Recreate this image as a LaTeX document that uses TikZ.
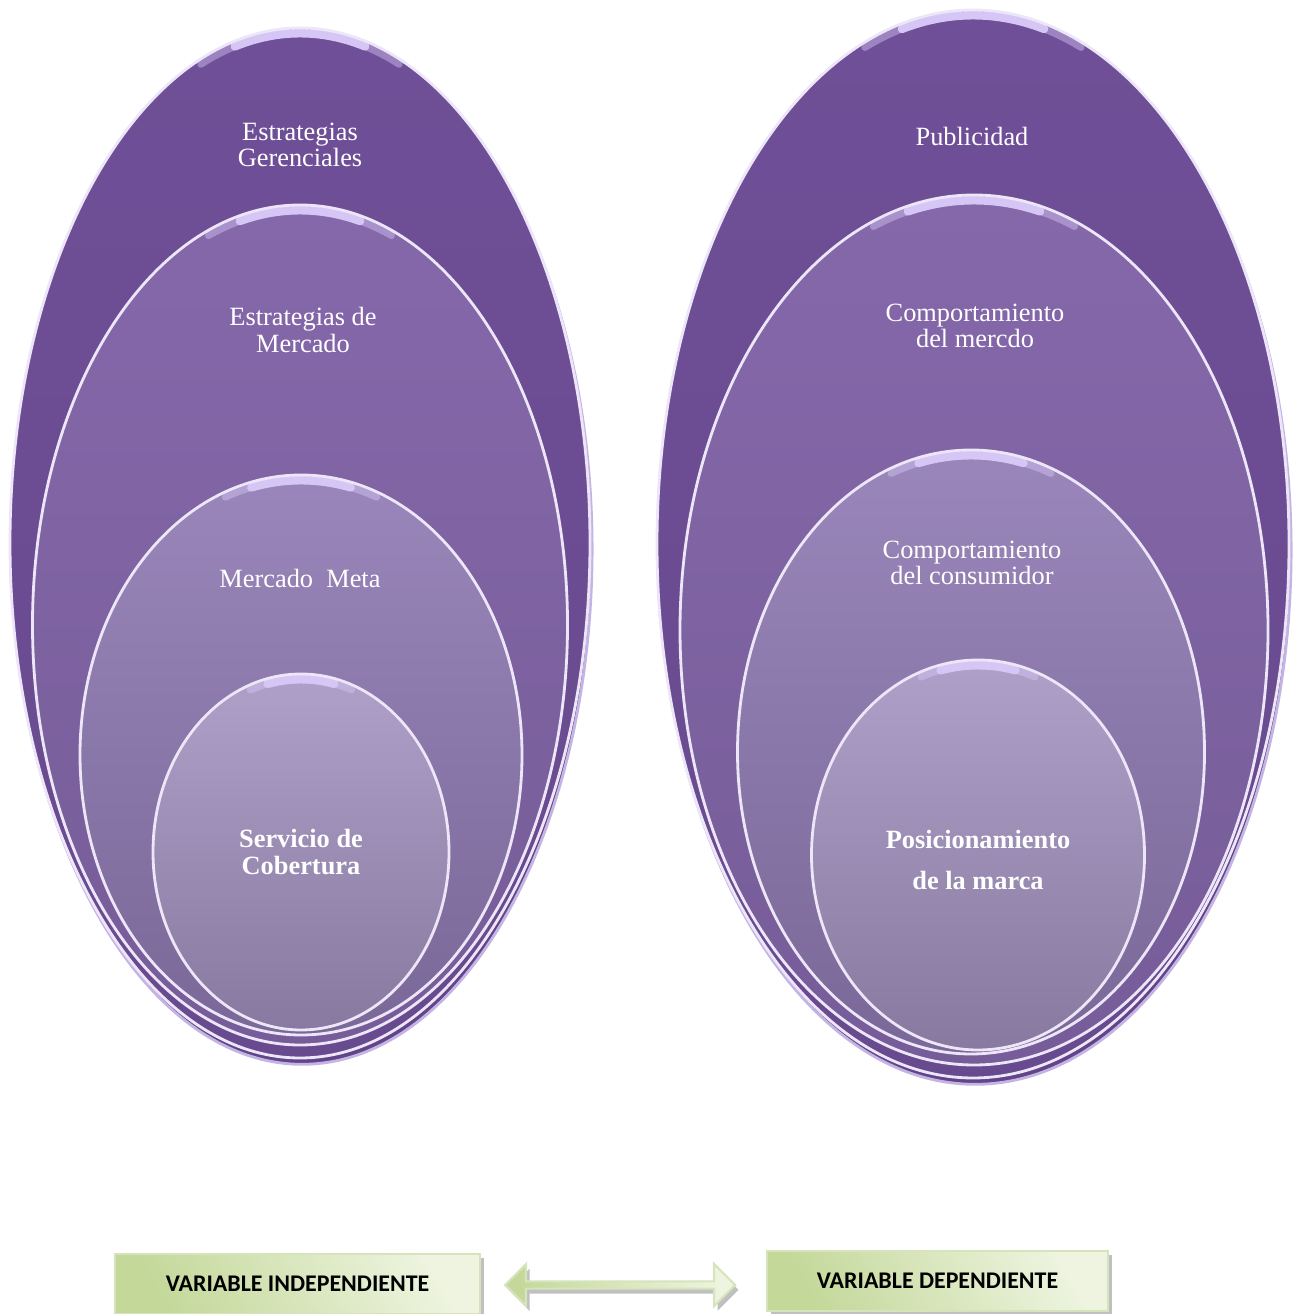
\documentclass[tikz,border=0pt]{standalone}
\usepackage{fontspec}
\setmainfont{Liberation Serif}
\newfontfamily\boxfont{Carlito}
\usetikzlibrary{positioning,shapes.geometric,shapes.arrows,shadows}
\definecolor{vOuter}{RGB}{111,79,151}
\definecolor{vOuterDk}{RGB}{104,74,142}
\definecolor{vMid}{RGB}{133,104,170}
\definecolor{vMidDk}{RGB}{118,92,152}
\definecolor{vIn}{RGB}{154,134,186}
\definecolor{vInDk}{RGB}{122,104,152}
\definecolor{vCore}{RGB}{174,160,200}
\definecolor{vCoreDk}{RGB}{136,121,160}
\definecolor{vRim}{RGB}{236,230,248}
\definecolor{vGlint}{RGB}{214,198,246}
\definecolor{vBack}{RGB}{98,68,136}
\definecolor{vBackRim}{RGB}{196,180,228}
\definecolor{gDark}{RGB}{196,216,154}
\definecolor{gLight}{RGB}{238,244,224}
\definecolor{gEdge}{RGB}{214,228,188}

\begin{document}
\begin{tikzpicture}[
  ring/.style 2 args={ellipse,inner sep=0pt,minimum width=#1cm,minimum height=#2cm,
    draw=vRim,line width=0.8pt,
    path picture={
      \draw[vGlint,line width=2pt,line cap=round,opacity=.45]
        ([shift={({#1cm/2*cos(70)},{#2cm/2*sin(70)-1.5pt})}]path picture bounding box.center)
        arc[start angle=70,end angle=110,x radius={#1cm/2},y radius={#2cm/2}];
      \draw[vGlint,line width=2.4pt,line cap=round]
        ([shift={({#1cm/2*cos(77)},{#2cm/2*sin(77)-1.5pt})}]path picture bounding box.center)
        arc[start angle=77,end angle=103,x radius={#1cm/2},y radius={#2cm/2}];}},
  backring/.style={copy shadow={shadow xshift=0.6pt,shadow yshift=-1.8pt,opacity=1,fill=vBack,draw=vBackRim,line width=0.8pt}},
  lbl/.style={text=white,align=center,font=\fontsize{7.5}{7.6}\selectfont},
  blbl/.style={lbl,font=\fontsize{7.5}{7.6}\selectfont\bfseries},
  varbox/.style={draw=gEdge,line width=0.6pt,left color=gDark,right color=gLight,shading angle=120,
    minimum height=0.6cm,inner sep=0pt,font=\boxfont\bfseries\fontsize{6.8}{7}\selectfont,
    drop shadow={shadow xshift=1.2pt,shadow yshift=-1.2pt,opacity=.45,fill=black!55}}]
  \useasboundingbox (0,0) rectangle (12.99,13.14);
  % independent side
  \node[ring={5.80}{10.30},backring,top color=vOuter,bottom color=vOuterDk] (e1) at (3.00,7.71) {};
  \node[ring={5.35}{8.40},top color=vMid,bottom color=vMidDk] (e2) at (3.00,6.89) {};
  \node[ring={4.42}{5.60},top color=vIn,bottom color=vInDk] (e3) at (3.01,5.59) {};
  \node[ring={2.96}{3.56},top color=vCore,bottom color=vCoreDk] (e4) at (3.01,4.62) {};
  \node[lbl] (t1) at (3.00,11.69) {Estrategias\\Gerenciales};
  \node[lbl] (t2) at (3.03,9.84) {Estrategias de\\Mercado};
  \node[lbl] (t3) at (3.00,7.36) {Mercado\ \ Meta};
  \node[blbl] (t4) at (3.01,4.62) {Servicio de\\Cobertura};
  % dependent side
  \node[ring={6.32}{10.68},backring,top color=vOuter,bottom color=vOuterDk] (r1) at (9.73,7.70) {};
  \node[ring={5.88}{8.70},top color=vMid,bottom color=vMidDk] (r2) at (9.74,6.84) {};
  \node[ring={4.67}{6.04},top color=vIn,bottom color=vInDk] (r3) at (9.71,5.62) {};
  \node[ring={3.33}{3.90},top color=vCore,bottom color=vCoreDk] (r4) at (9.78,4.59) {};
  \node[lbl] (s1) at (9.72,11.77) {Publicidad};
  \node[lbl] (s2) at (9.75,9.88) {Comportamiento\\del mercdo};
  \node[lbl] (s3) at (9.72,7.51) {Comportamiento\\del consumidor};
  \node[blbl,font=\fontsize{7.5}{11.4}\selectfont\bfseries] (s4) at (9.78,4.54) {Posicionamiento\\de la marca};
  % variables
  \node[varbox,minimum width=3.65cm] (vi) at (2.975,0.30) {VARIABLE INDEPENDIENTE};
  \node[varbox,minimum width=3.41cm] (vd) at (9.375,0.33) {VARIABLE DEPENDIENTE};
  \node[double arrow,draw=gEdge,line width=0.6pt,left color=gDark,right color=gLight,shading angle=100,
    minimum width=0.42cm,minimum height=2.3cm,double arrow head extend=0.05cm,inner sep=0pt,
    drop shadow={shadow xshift=1pt,shadow yshift=-1.4pt,opacity=.45,fill=black!55}]
    (link) at (6.20,0.29) {};
\end{tikzpicture}
\end{document}
